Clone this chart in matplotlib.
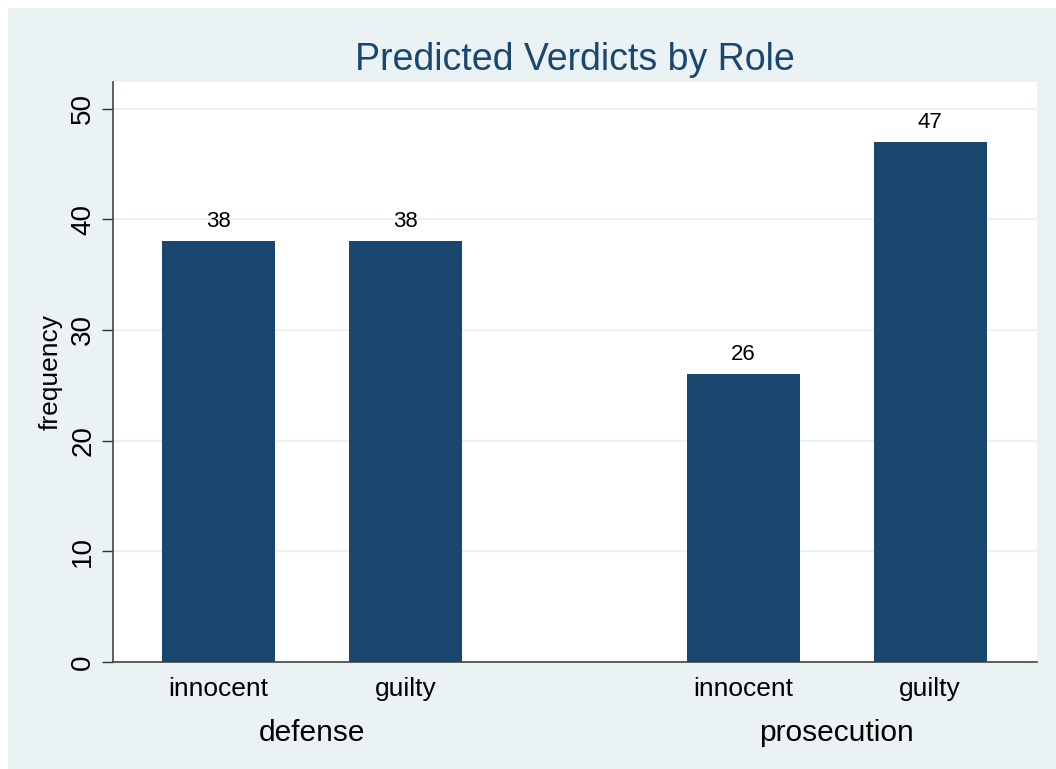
import matplotlib
matplotlib.use("Agg")
import matplotlib.pyplot as plt
from matplotlib.patches import Rectangle

plt.rcParams['font.family'] = ['Liberation Sans', 'DejaVu Sans']

groups = ["defense", "prosecution"]
verdicts = ["innocent", "guilty"]
counts = [[38, 38], [26, 47]]

STATA_NAVY = "#1A476F"
BG = "#EAF2F3"

W, H = 1056, 769
fig = plt.figure(figsize=(W / 100, H / 100), dpi=100)
fig.patch.set_facecolor("white")
fig.patches.append(Rectangle((8 / W, 0), 1 - 8 / W, (H - 8) / H,
                             transform=fig.transFigure, facecolor=BG,
                             edgecolor="none", zorder=-10))

# plot region in pixels
left, right, top, bottom = 113, 1037, 82, 662
ax = fig.add_axes([left / W, (H - bottom) / H, (right - left) / W, (bottom - top) / H])
ax.set_facecolor("white")

# bar positions: gap inside a group = 1, gap between groups wider
group_gap = 1.807
xpos = []
for g in range(len(groups)):
    for v in range(len(verdicts)):
        xpos.append(g * group_gap + g + v)
vals = [c for row in counts for c in row]
labels = [v for g in groups for v in verdicts]

bars = ax.bar(xpos, vals, width=0.604, color=STATA_NAVY, zorder=3)
for x, v in zip(xpos, vals):
    ax.annotate(str(v), (x, v), xytext=(0, 14), textcoords="offset points",
                ha="center", va="center", fontsize=16)

ax.set_xlim(-0.564, 4.378)
ax.set_ylim(0, 52.4)
ax.set_yticks([0, 10, 20, 30, 40, 50])
ax.yaxis.grid(True, color=BG, linewidth=1.6, zorder=0)
ax.set_axisbelow(True)
for t in ax.get_yticklabels():
    t.set_rotation(90)
    t.set_va("center")
ax.tick_params(axis="y", labelsize=20, length=8, width=1, color="#333333", pad=4)
ax.set_xticks(xpos)
ax.set_xticklabels(labels)
ax.tick_params(axis="x", length=0, labelsize=19, pad=11)
ax.set_ylabel("frequency", fontsize=19)
ax.yaxis.set_label_coords(-0.054, 0.5)

for s in ["top", "right"]:
    ax.spines[s].set_visible(False)
for s in ["left", "bottom"]:
    ax.spines[s].set_color("#444444")
    ax.spines[s].set_linewidth(1.2)

# group labels under the categories
for g, name in enumerate(groups):
    cx = (xpos[2 * g] + xpos[2 * g + 1]) / 2
    ax.text(cx, -0.123, name, transform=ax.get_xaxis_transform(),
            ha="center", va="center", fontsize=21.5)

fig.text((left + right) / 2 / W, 1 - 60 / H, "Predicted Verdicts by Role",
         ha="center", va="center", fontsize=27, color=STATA_NAVY)

fig.savefig("out.png", dpi=100)
